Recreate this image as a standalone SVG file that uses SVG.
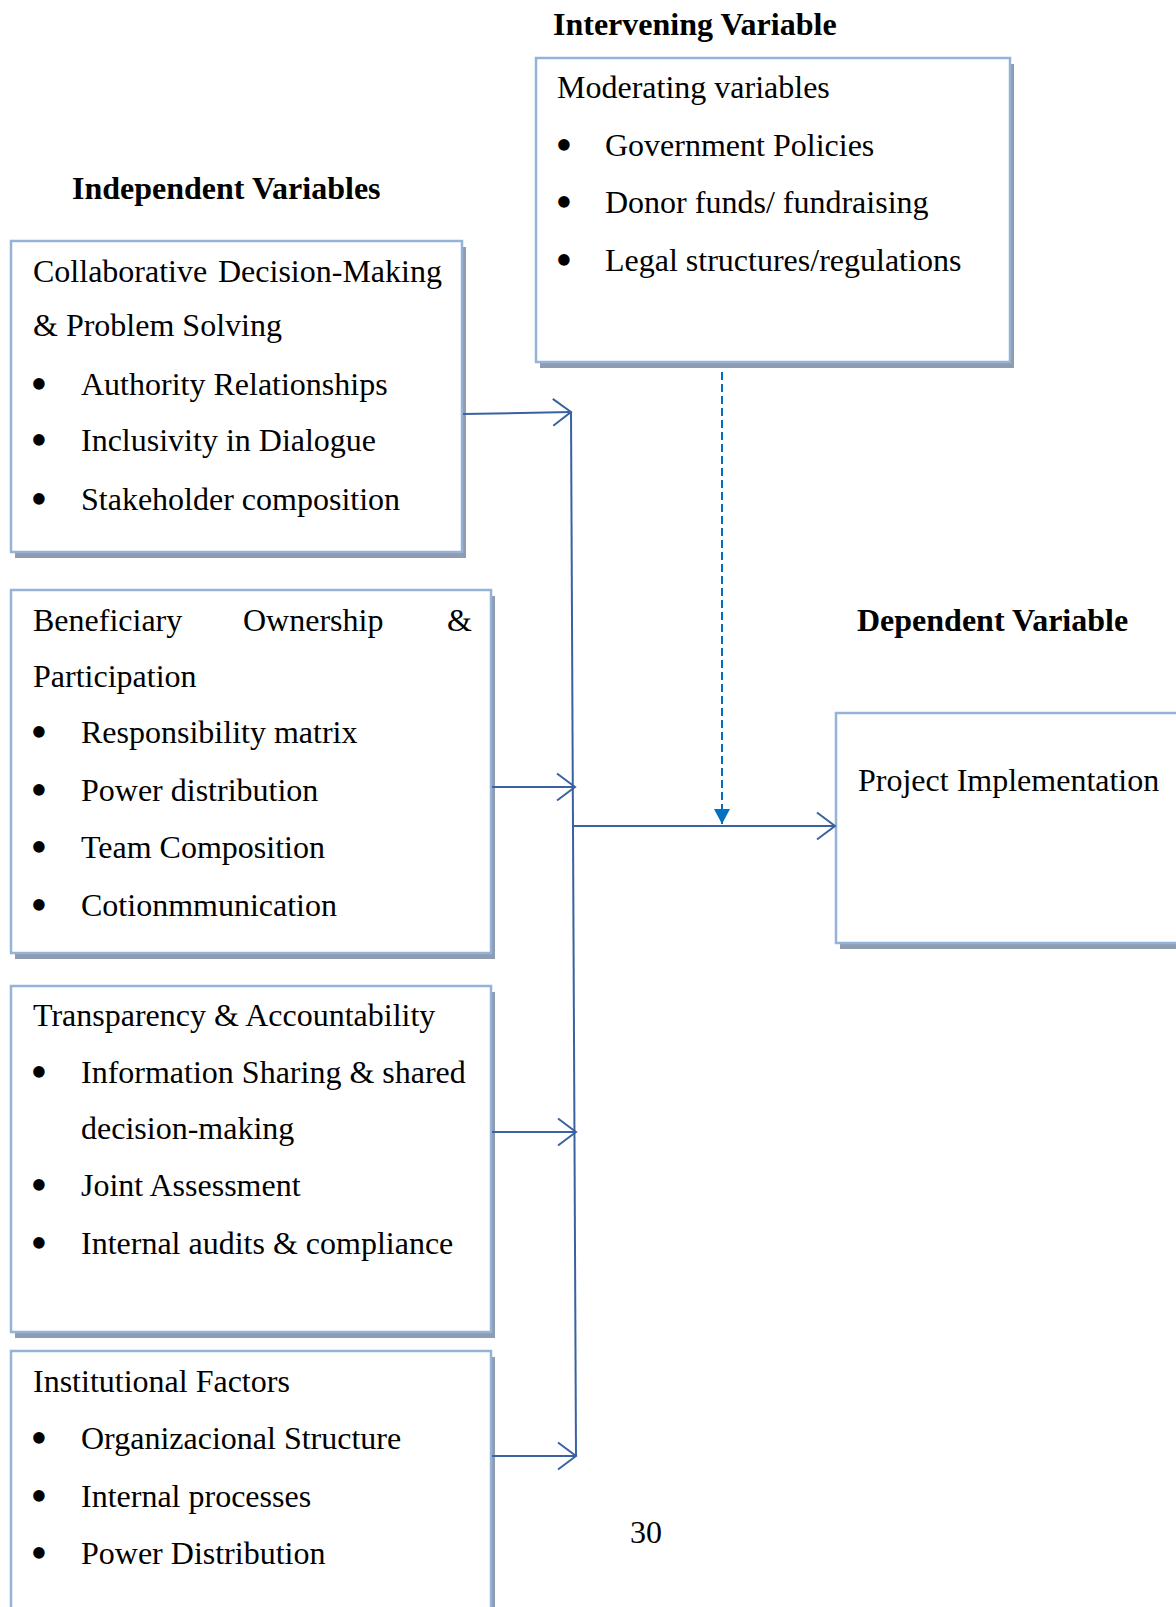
<svg xmlns="http://www.w3.org/2000/svg" width="1176" height="1607" viewBox="0 0 1176 1607">
<style>
  text { font-family: "Liberation Serif", "Times New Roman", serif; font-size: 32px; fill: #000; }
  .h { font-weight: bold; }
  .bul { text-anchor: middle; font-size: 48px; }
  .box { fill: #fff; stroke: #95B3D7; stroke-width: 2.5; }
  .shadow { fill: #8E9CB2; }
  .conn { fill: none; stroke: #3A62A0; stroke-width: 2; }
  .dash { fill: none; stroke: #0070C0; stroke-width: 2; stroke-dasharray: 8 4; }
</style>
<defs>
  <marker id="open" markerUnits="userSpaceOnUse" markerWidth="24" markerHeight="32" viewBox="-20 -16 24 32" refX="0" refY="0" orient="auto" overflow="visible">
    <path d="M-18,-13.5 L0,0 L-18,13.5" fill="none" stroke="#3A62A0" stroke-width="2"/>
  </marker>
  <marker id="solid" markerUnits="userSpaceOnUse" markerWidth="18" markerHeight="18" viewBox="-16 -9 18 18" refX="0" refY="0" orient="auto" overflow="visible">
    <path d="M-15,-8 L0,0 L-15,8 Z" fill="#0070C0"/>
  </marker>
</defs>

<rect width="1176" height="1607" fill="#fff"/>

<g id="headings">
  <text class="h" x="553" y="35">Intervening Variable</text>
  <text class="h" x="72" y="199">Independent Variables</text>
  <text class="h" x="857" y="631">Dependent Variable</text>
</g>

<g id="moderating">
  <rect class="shadow" x="540" y="64" width="474" height="304"/>
  <rect class="box" x="536" y="58" width="474" height="304"/>
  <text x="557" y="98">Moderating variables</text>
  <text class="bul" x="564" y="161">•</text><text x="605" y="156">Government Policies</text>
  <text class="bul" x="564" y="218">•</text><text x="605" y="213">Donor funds/ fundraising</text>
  <text class="bul" x="564" y="276">•</text><text x="605" y="271">Legal structures/regulations</text>
</g>

<g id="collaborative">
  <rect class="shadow" x="15" y="247" width="451" height="311"/>
  <rect class="box" x="11" y="241" width="451" height="311"/>
  <text x="33" y="282">Collaborative</text><text x="218" y="282">Decision-Making</text>
  <text x="33" y="336">&amp; Problem Solving</text>
  <text class="bul" x="39" y="400">•</text><text x="81" y="395">Authority Relationships</text>
  <text class="bul" x="39" y="456">•</text><text x="81" y="451">Inclusivity in Dialogue</text>
  <text class="bul" x="39" y="515">•</text><text x="81" y="510">Stakeholder composition</text>
</g>

<g id="beneficiary">
  <rect class="shadow" x="15" y="596" width="480" height="363"/>
  <rect class="box" x="11" y="590" width="480" height="363"/>
  <text x="33" y="631">Beneficiary</text><text x="243" y="631">Ownership</text><text x="447" y="631">&amp;</text>
  <text x="33" y="687">Participation</text>
  <text class="bul" x="39" y="748">•</text><text x="81" y="743">Responsibility matrix</text>
  <text class="bul" x="39" y="806">•</text><text x="81" y="801">Power distribution</text>
  <text class="bul" x="39" y="863">•</text><text x="81" y="858">Team Composition</text>
  <text class="bul" x="39" y="921">•</text><text x="81" y="916">Cotionmmunication</text>
</g>

<g id="transparency">
  <rect class="shadow" x="15" y="992" width="480" height="346"/>
  <rect class="box" x="11" y="986" width="480" height="346"/>
  <text x="33" y="1026">Transparency &amp; Accountability</text>
  <text class="bul" x="39" y="1088">•</text><text x="81" y="1083">Information Sharing &amp; shared</text>
  <text x="81" y="1139">decision-making</text>
  <text class="bul" x="39" y="1201">•</text><text x="81" y="1196">Joint Assessment</text>
  <text class="bul" x="39" y="1259">•</text><text x="81" y="1254">Internal audits &amp; compliance</text>
</g>

<g id="institutional">
  <rect class="shadow" x="15" y="1357" width="480" height="300"/>
  <rect class="box" x="11" y="1351" width="480" height="300"/>
  <text x="33" y="1392">Institutional Factors</text>
  <text class="bul" x="39" y="1454">•</text><text x="81" y="1449">Organizacional Structure</text>
  <text class="bul" x="39" y="1512">•</text><text x="81" y="1507">Internal processes</text>
  <text class="bul" x="39" y="1569">•</text><text x="81" y="1564">Power Distribution</text>
</g>

<g id="dependent">
  <rect class="shadow" x="840" y="719" width="360" height="230"/>
  <rect class="box" x="836" y="713" width="360" height="230"/>
  <text x="858" y="791">Project Implementation</text>
</g>

<g id="page-number">
  <text x="630" y="1543">30</text>
</g>

<g id="connectors">
  <line class="conn" x1="463" y1="414" x2="571" y2="412" marker-end="url(#open)"/>
  <line class="conn" x1="571" y1="412" x2="576" y2="1456"/>
  <line class="conn" x1="492" y1="787" x2="575" y2="787" marker-end="url(#open)"/>
  <line class="conn" x1="492" y1="1132" x2="576" y2="1132" marker-end="url(#open)"/>
  <line class="conn" x1="492" y1="1456" x2="576" y2="1456" marker-end="url(#open)"/>
  <line class="conn" x1="573" y1="826" x2="835" y2="826" marker-end="url(#open)"/>
  <line class="dash" x1="722" y1="372" x2="722" y2="824" marker-end="url(#solid)"/>
</g>
</svg>
